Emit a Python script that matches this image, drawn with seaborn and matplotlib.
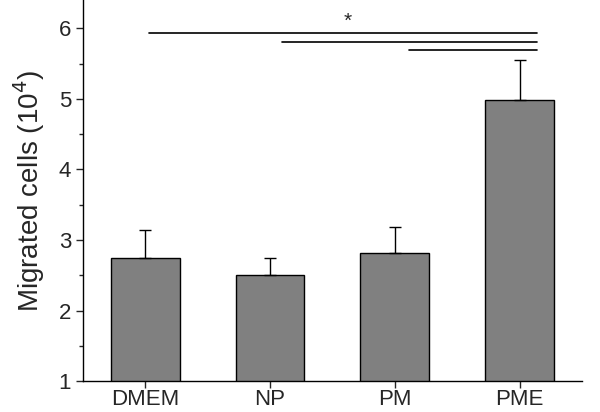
import numpy as np
import pandas as pd
import matplotlib
matplotlib.use('Agg')
import matplotlib.pyplot as plt
import seaborn as sns
from matplotlib.ticker import MultipleLocator

# data
groups = ['DMEM', 'NP', 'PM', 'PME']
means = [2.74, 2.50, 2.81, 4.98]
err_up = [0.40, 0.25, 0.38, 0.57]

# significance lines: (start, end, y)
sig_start = [0.03, 1.10, 2.11]
sig_end = [3.14, 3.14, 3.14]
sig_y = [5.93, 5.81, 5.69]

df = pd.DataFrame({'group': groups, 'cells': means})

sns.set_style('ticks')
plt.rcParams['font.family'] = ['Liberation Sans', 'DejaVu Sans']

fig = plt.figure(figsize=(6, 4.12), dpi=100)
ax = fig.add_axes([0.138, 0.075, 0.832, 0.925])

sns.barplot(x='group', y='cells', data=df, color='#808080', width=0.55,
            edgecolor='black', linewidth=1, saturation=1, ax=ax)
ax.errorbar(range(len(groups)), means, yerr=[np.zeros(len(err_up)), err_up],
            fmt='none', ecolor='black', elinewidth=1, capsize=4, capthick=1)

# significance bars
for x0, x1, y in zip(sig_start, sig_end, sig_y):
    ax.plot([x0, x1], [y, y], color='black', lw=1.2)
ax.text(1.62, 5.97, '*', ha='center', va='bottom', fontsize=15)

ax.set_ylim(1, 6.4)
ax.set_xlim(-0.5, 3.5)
ax.yaxis.set_major_locator(MultipleLocator(1))
ax.yaxis.set_minor_locator(MultipleLocator(0.5))
ax.tick_params(axis='both', which='major', labelsize=16, length=5, direction='out', width=1)
ax.tick_params(axis='x', pad=0.5)
ax.tick_params(axis='y', which='minor', length=3, direction='out', width=1)
ax.set_xlabel('')
ax.set_ylabel('Migrated cells (10$^4$)', fontsize=20, labelpad=8)
sns.despine(ax=ax)
for s in ['left', 'bottom']:
    ax.spines[s].set_color('black')
    ax.spines[s].set_linewidth(1)

fig.savefig('out.png', dpi=100)
